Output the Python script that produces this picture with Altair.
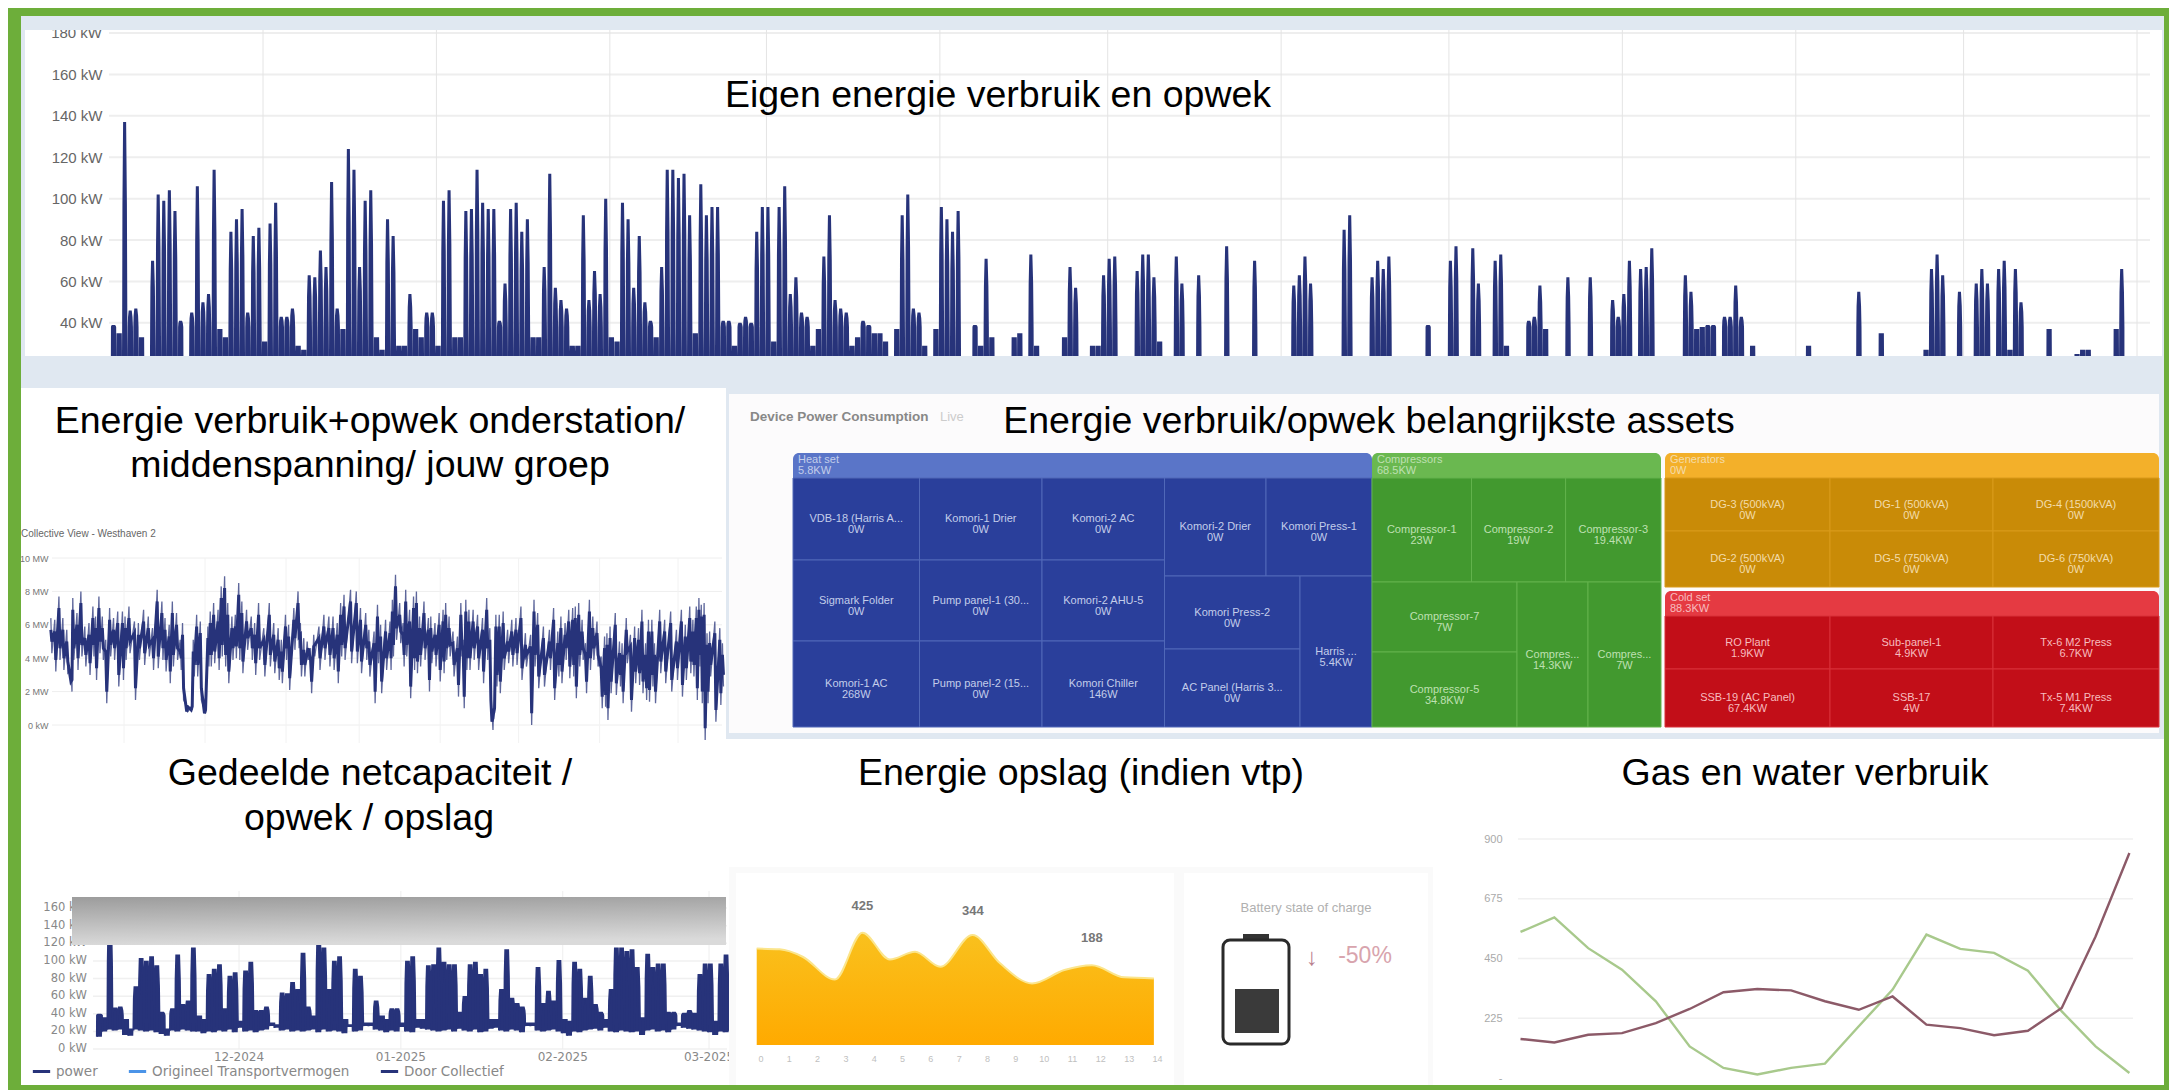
import altair as alt
import pandas as pd

alt.data_transformers.disable_max_rows()

# ---------- values ----------
daily_peak_kw = [
    39,35,137,46,47,33,22,70,102,99, 104,94,41,22,45,106,50,54,114,37,
    33,84,90,95,45,82,86,31,88,98, 43,43,47,29,27,63,62,75,67,108,
    47,37,124,114,67,99,104,33,27,90, 82,29,29,54,37,33,45,45,29,99,
    104,33,33,94,95,114,98,95,95,41, 59,95,98,84,90,33,33,67,112,57,
    51,47,29,29,92,51,65,54,100,33, 31,98,90,57,82,50,41,33,67,114,
    114,110,112,92,35,107,92,96,96,41, 41,29,40,43,40,84,96,96,31,96,
    106,54,62,45,43,29,37,72,92,51, 47,45,29,33,41,39,35,35,31,24,
    37,92,102,47,45,29,24,37,96,90, 84,94,22,22,39,29,71,33,22,22,
    22,33,35,24,73,29,22,22,22,22, 33,67,57,22,22,29,29,63,71,72,
    22,22,22,65,73,73,62,31,22,22, 72,59,22,22,63,22,22,22,22,77,
    22,22,22,22,70,22,22,22,22,22, 22,58,63,72,59,22,22,22,22,22,
    85,92,22,22,22,62,70,66,72,22, 22,22,22,22,22,39,22,22,22,70,
    77,22,22,76,59,22,22,70,73,29, 22,22,22,41,43,58,37,22,22,22,
    62,22,22,22,62,22,22,22,51,43, 54,70,22,66,67,76,22,22,22,22,
    22,63,55,37,38,39,39,22,43,43, 58,43,22,29,22,22,22,22,22,22,
    22,22,22,29,22,22,22,22,22,22, 22,22,55,22,22,22,35,22,22,22,
    22,22,22,22,27,66,73,63,22,22, 55,22,22,59,66,59,22,66,70,27,
    66,50,22,22,22,22,37,22,22,22, 22,25,27,27,22,22,22,22,37,66,
]
daily_low_kw = [
    14,20,22,21,22,16,15,22,21,20, 21,19,17,15,21,20,22,21,20,20,
    18,20,19,21,20,22,19,24,20,21, 19,21,22,26,24,21,22,20,21,20,
    21,22,19,22,20,21,20,18,25,20, 21,26,26,22,21,19,21,20,25,20,
    19,24,23,22,21,20,21,22,20,23, 21,20,22,19,20,23,24,21,20,22,
    21,19,26,26,21,20,21,22,20,18, 15,20,19,21,22,23,21,24,20,19,
    21,20,19,20,16,21,22,20,21,19, 22,26,24,23,22,21,20,19,16,20,
    19,21,22,21,22,26,22,20,19,21, 22,21,26,23,22,22,24,23,20,18,
] + [18] * 220

mw_day = [
    0,1.5,3.1,4.6,6.1,7.7,8.4,10,11.5,13,14.6,16.1,17.1,18.4,19.7,21,22.5,24,25.6,27.4,
    28.4,29.9,32,33.5,35.5,37.3,38.9,40.7,42.5,43.7,45.3,46.5,48.1,49.5,50.4,52,53.7,54.5,55.8,57.2,
    58.8,60.1,61,62.3,64,65.2,66.5,67.7,69.3,70.6,71.9,73.1,74.9,76.7,78,79.5,81.5,83.6,85.3,87,
    88.2,89.8,91,93,94.6,95.5,96.8,98.1,99.4,100.6,102.6,104.5,106.4,108,109.6,110.9,112.2,114.7,116.9,118.5,
    120.5,121.7,123.7,125,126.2,128.1,129.8,130.7,131.9,133.5,134.8,135.8,137.3,138.8,139.9,141.1,142.8,144.5,145.4,147,
    148.6,150.1,151.1,152.4,153.9,155.6,156.9,157.8,158.8,160,161.6,163.3,165.2,166.8,168,168.8,169.4,170.3,171.6,173.1,
    174.8,176.4,178,179.9,181.6,183.6,184.9,186.3,188.5,190.8,192.4,194,195.2,196.8,198.2,199.7,200.7,202,203.3,204.6,
    206.1,207.4,209,210.6,211.9,212.8,214,216,217.6,218.6,220.2,221.8,223.4,224.9,226.2,227.6,228.7,230,231,233,
    234.9,237.2,239.4,241.3,242.8,244.5,245.7,247,248,248.9,250,251.1,252.1,254.1,256,257,
]
mw_high = [
    6.4,6.3,7.7,6.4,5.7,3.3,7.6,6.7,8.0,5.9,6.1,7.1,6.5,7.7,6.5,5.1,7.0,6.4,6.8,6.8,
    6.5,7.1,6.2,6.1,6.9,6.5,5.8,8.1,7.4,6.4,6.0,7.4,6.7,5.1,6.1,1.1,1.1,5.1,6.6,6.2,
    0.9,5.9,6.8,7.3,6.9,8.3,8.9,7.3,6.5,6.6,8.5,7.4,6.9,6.5,6.1,7.3,5.8,7.3,6.1,5.8,
    5.1,6.6,6.0,7.0,8.0,6.1,5.2,5.0,4.6,5.4,5.9,6.6,6.5,6.5,6.1,7.3,7.8,8.1,8.0,7.0,
    6.7,5.7,5.6,7.2,6.0,6.3,6.2,7.5,9.0,7.3,6.1,8.1,6.9,7.7,8.0,6.5,7.4,6.4,6.5,6.1,
    6.7,6.9,7.3,6.5,5.6,5.3,7.3,5.1,7.5,6.9,6.9,6.6,6.4,7.6,5.8,0.9,1.0,6.6,6.6,6.8,
    5.7,6.3,6.4,7.1,5.5,5.4,7.5,6.7,5.9,5.7,7.0,5.6,6.5,6.1,6.9,7.0,7.1,7.3,6.3,4.9,
    7.5,6.5,6.2,4.1,5.3,5.5,5.9,6.7,5.0,4.9,6.4,5.4,5.9,5.8,6.9,4.9,6.3,6.3,4.9,6.9,
    6.3,6.8,5.7,6.9,6.0,7.1,6.3,7.1,7.6,7.2,7.3,5.5,5.6,6.2,5.8,4.9,
]
mw_low = [
    4.3,3.2,3.9,3.3,3.1,2.0,3.9,3.3,4.1,3.5,3.0,4.1,2.7,4.3,3.9,1.3,4.1,3.9,2.3,2.7,
    3.9,4.3,1.5,3.9,3.6,4.1,3.3,3.4,3.9,3.2,2.5,3.5,3.9,3.3,1.5,0.8,0.9,2.9,2.9,1.5,
    0.7,3.5,3.5,3.7,3.3,4.1,3.5,2.5,3.9,4.0,3.9,3.1,4.5,3.9,3.0,3.9,2.9,3.5,3.1,2.7,
    2.5,3.9,2.1,4.5,4.6,2.9,2.9,3.9,1.9,4.1,3.3,3.9,3.5,3.3,2.5,4.1,3.9,3.7,3.7,3.1,
    3.9,2.9,1.3,3.7,1.9,3.3,3.3,4.1,5.1,4.9,3.5,4.1,1.6,3.3,3.1,3.5,3.9,2.0,3.7,3.5,
    2.6,3.1,3.9,4.1,2.9,1.7,4.1,1.0,3.3,3.3,3.9,3.3,2.5,3.9,0.8,-0.3,0.7,2.3,1.9,3.3,
    3.7,3.5,3.6,2.7,3.5,0.0,3.5,2.2,2.3,3.3,1.5,2.9,2.5,3.9,2.8,2.9,1.6,3.5,3.9,1.9,
    3.3,3.9,3.5,1.0,1.1,0.3,1.9,1.8,2.3,1.3,3.7,0.8,2.5,2.4,1.9,1.5,1.4,2.3,1.3,3.1,
    2.5,2.0,2.7,1.7,2.7,3.1,2.9,1.5,3.5,1.3,-0.9,1.3,2.9,0.2,1.2,2.3,
]

gas_green = [550,605,489,408,289,119,38,13,38,54,195,333,540,486,471,404,251,119,19]
gas_brown = [147,134,163,169,207,260,323,335,330,289,257,307,201,188,161,178,264,533,847]

storage_x = [-0.13,0.68,1.49,2.63,3.6,4.57,5.46,6.35,7.49,8.46,9.59,10.73,11.7,12.84,13.89]
storage_v = [365,362,334,248,425,324,353,296,416,309,233,284,302,256,252]
storage_label_x = [3.6, 7.5, 11.7]
storage_label_v = [526, 507, 405]
storage_label_t = ["425", "344", "188"]

battery_soc = 50

month_ends_top = ["2024-12-01","2025-01-01","2025-02-01","2025-03-01","2025-04-01","2025-05-01",
                  "2025-06-01","2025-07-01","2025-08-01","2025-09-01","2025-10-01","2025-11-01"]
month_ends_mid = month_ends_top[:8]
month_ends_low = month_ends_top[:4]
low_month_labels = ["12-2024", "01-2025", "02-2025", "03-2025"]
low_ticks_kw = [0,20,40,60,80,100,120,140,160]
low_tick_text = ["0 kW","20 kW","40 kW","60 kW","80 kW","100 kW","120 kW","140 kW","160 kW"]

legend_names = ["power", "Origineel Transportvermogen", "Door Collectief"]
legend_colors = ["#27337a", "#4b94e8", "#27337a"]

# treemap: name, value
heat_names = ["VDB-18 (Harris A...\n0W","Komori-1 Drier\n0W","Komori-2 AC\n0W","Sigmark Folder\n0W",
              "Pump panel-1 (30...\n0W","Komori-2 AHU-5\n0W","Komori-1 AC\n268W","Pump panel-2 (15...\n0W",
              "Komori Chiller\n146W","Komori-2 Drier\n0W","Komori Press-1\n0W","Komori Press-2\n0W",
              "AC Panel (Harris 3...\n0W","Harris ...\n5.4KW"]
comp_names = ["Compressor-1\n23W","Compressor-2\n19W","Compressor-3\n19.4KW","Compressor-7\n7W",
              "Compressor-5\n34.8KW","Compres...\n14.3KW","Compres...\n7W"]
gen_names = ["DG-3 (500kVA)\n0W","DG-1 (500kVA)\n0W","DG-4 (1500kVA)\n0W",
             "DG-2 (500kVA)\n0W","DG-5 (750kVA)\n0W","DG-6 (750kVA)\n0W"]
cold_names = ["RO Plant\n1.9KW","Sub-panel-1\n4.9KW","Tx-6 M2 Press\n6.7KW",
              "SSB-19 (AC Panel)\n67.4KW","SSB-17\n4W","Tx-5 M1 Press\n7.4KW"]

# ---------- layout ----------
W, H = 2161, 1082
M = 8
PAGE_X = alt.Scale(domain=[0, 2177], range=[-M, 2177 - M], nice=False, zero=False)
PAGE_Y = alt.Scale(domain=[0, 1090], range=[-M, 1090 - M], nice=False, zero=False)
FONT = "Liberation Sans"
LINE = "#27337a"


def rects(items, **mark):
    df = pd.DataFrame(items, columns=["x0", "x1", "y0", "y1", "c"])
    return alt.Chart(df).mark_rect(**mark).encode(
        x=alt.X("x0:Q", scale=PAGE_X, axis=None), x2="x1:Q",
        y=alt.Y("y0:Q", scale=PAGE_Y, axis=None), y2="y1:Q",
        fill=alt.Fill("c:N", scale=None),
    )


def texts(items, **mark):
    df = pd.DataFrame(items, columns=["t", "x", "y"])
    return alt.Chart(df).mark_text(font=FONT, **mark).encode(
        x=alt.X("x:Q", scale=PAGE_X, axis=None),
        y=alt.Y("y:Q", scale=PAGE_Y, axis=None),
        text="t:N",
    )


def ts(day):
    return pd.Timestamp("2024-11-03 19:00") + pd.Timedelta(days=day)


def temporal_scale(first, last, x_first, x_last):
    return alt.Scale(domain=[first + "T00:00:00", last + "T00:00:00"], range=[x_first - M, x_last - M])


# ---------- shared daily series ----------
rows = []
for i, (pk, lo) in enumerate(zip(daily_peak_kw, daily_low_kw)):
    shoulder = min(pk, 38)
    waist = shoulder + (pk - shoulder) * 0.6
    rows += [(i, lo, lo), (i + 0.03, shoulder, lo), (i + 0.08, waist, lo), (i + 0.2, pk, lo),
             (i + 0.74, pk, lo), (i + 0.88, waist, lo), (i + 0.96, shoulder, lo)]
power = pd.DataFrame(rows, columns=["day", "kw", "base"])
power["t"] = power["day"].map(ts)
power["series"] = "power"

# ---------- top panel ----------
top_xs = temporal_scale("2024-12-01", "2025-11-01", 263, 2137)
top_ys = alt.Scale(domain=[24, 180], range=[356 - M, 33 - M], nice=False, zero=False)
top_grid_h = alt.Chart(pd.DataFrame({"v": [40, 60, 80, 100, 120, 140, 160, 180]})).mark_rule(
    color="#eeeeee", strokeWidth=2
).encode(y=alt.Y("v:Q", scale=top_ys, axis=None), x=alt.value(109 - M), x2=alt.value(2150 - M))
top_grid_v = alt.Chart(pd.DataFrame({"m": month_ends_top})).mark_rule(
    color="#e4e4e4", strokeWidth=1
).encode(x=alt.X("m:T", scale=top_xs, axis=None), y=alt.value(30 - M), y2=alt.value(356 - M))
top_line = alt.Chart(power).mark_area(color=LINE, opacity=1, interpolate="linear").encode(
    x=alt.X("t:T", scale=top_xs, axis=None),
    y=alt.Y("kw:Q", scale=top_ys, axis=alt.Axis(
        orient="left", values=[40, 60, 80, 100, 120, 140, 160], labelExpr="datum.value + ' kW'", title=None,
        domain=False, ticks=False, tickSize=0, grid=False, labelPadding=0, offset=-(102 - M),
        labelFont=FONT, labelFontSize=15, labelColor="#666666", zindex=1)),
)
top_180 = alt.Chart(pd.DataFrame({"v": [180], "t": ["180 kW"]})).mark_text(
    font=FONT, fontSize=15, color="#666666", align="right", baseline="middle"
).encode(y=alt.Y("v:Q", scale=top_ys, axis=None), x=alt.value(102 - M), text="t:N")
top_panel = [top_grid_h, top_grid_v, top_line, top_180]

# ---------- middle left ----------
mid_pts, core_pts = [], []
for d, hi, lo in zip(mw_day, mw_high, mw_low):
    mid_pts += [(d, hi), (d + 0.4, lo)]
    core_pts += [(d, max(hi - 0.7, lo)), (d + 0.4, min(lo + 0.7, hi))]
start_mid = pd.Timestamp("2024-11-03")
mid = pd.DataFrame(mid_pts, columns=["day", "mw"])
mid["t"] = mid["day"].map(lambda d: start_mid + pd.Timedelta(days=d))
core = pd.DataFrame(core_pts, columns=["day", "mw"])
core["t"] = core["day"].map(lambda d: start_mid + pd.Timedelta(days=d))
mid_xs = temporal_scale("2024-12-01", "2025-07-01", 124, 678)
mid_ys = alt.Scale(domain=[0, 10], range=[725 - M, 558 - M], nice=False, zero=False)
mid_grid_h = alt.Chart(pd.DataFrame({"v": [0, 2, 4, 6, 8, 10]})).mark_rule(
    color="#eeeeee", strokeWidth=1
).encode(y=alt.Y("v:Q", scale=mid_ys, axis=None), x=alt.value(52 - M), x2=alt.value(722 - M))
mid_grid_v = alt.Chart(pd.DataFrame({"m": month_ends_mid})).mark_rule(
    color="#f2f2f2", strokeWidth=1
).encode(x=alt.X("m:T", scale=mid_xs, axis=None), y=alt.value(558 - M), y2=alt.value(743 - M))
mid_line = alt.Chart(mid).mark_line(color=LINE, strokeWidth=1.3, opacity=0.75).encode(
    x=alt.X("t:T", scale=mid_xs, axis=None),
    y=alt.Y("mw:Q", scale=mid_ys, axis=alt.Axis(
        orient="left", values=[0, 2, 4, 6, 8, 10], labelExpr="datum.value == 0 ? '0 kW' : datum.value + ' MW'", title=None,
        domain=False, ticks=False, tickSize=0, grid=False, labelPadding=0, offset=-(48 - M),
        labelFont=FONT, labelFontSize=9, labelColor="#777777", zindex=1)),
)
mid_core = alt.Chart(core).mark_line(color=LINE, strokeWidth=3).encode(
    x=alt.X("t:T", scale=mid_xs, axis=None),
    y=alt.Y("mw:Q", scale=mid_ys, axis=None),
)
mid_panel = [mid_grid_h, mid_grid_v, mid_line, mid_core]

# ---------- treemap ----------
heat_tiles = [(793,919.5,478,560),(919.5,1042,478,560),(1042,1164.5,478,560),
              (793,919.5,560,641),(919.5,1042,560,641),(1042,1164.5,560,641),
              (793,919.5,641,727),(919.5,1042,641,727),(1042,1164.5,641,727),
              (1164.5,1266,478,576),(1266,1372,478,576),(1164.5,1300,576,649),
              (1164.5,1300,649,727),(1300,1372,576,727)]
comp_tiles = [(1372,1471.5,478,582),(1471.5,1565.6,478,582),(1565.6,1661,478,582),
              (1372,1517,582,652),(1372,1517,652,727),(1517,1588,582,727),(1588,1661,582,727)]
gen_tiles = [(1665,1830,478,531),(1830,1993,478,531),(1993,2159,478,531),
             (1665,1830,531,587),(1830,1993,531,587),(1993,2159,531,587)]
cold_tiles = [(1665,1830,616,669),(1830,1993,616,669),(1993,2159,616,669),
              (1665,1830,669,727),(1830,1993,669,727),(1993,2159,669,727)]


def tile_group(frame, header, title, tiles, names, cell, line, ink):
    parts = [rects([(*frame, header)], cornerRadius=6)]
    df = pd.DataFrame(tiles, columns=["x0", "x1", "y0", "y1"])
    df["n"] = names
    df["cx"] = (df.x0 + df.x1) / 2
    df["cy"] = (df.y0 + df.y1) / 2
    parts.append(alt.Chart(df).mark_rect(stroke=line, strokeWidth=1, fill=cell).encode(
        x=alt.X("x0:Q", scale=PAGE_X, axis=None), x2="x1:Q",
        y=alt.Y("y0:Q", scale=PAGE_Y, axis=None), y2="y1:Q"))
    parts.append(alt.Chart(df).mark_text(font=FONT, fontSize=11, color=ink, lineBreak="\n", lineHeight=11,
                                         baseline="middle").encode(
        x=alt.X("cx:Q", scale=PAGE_X, axis=None), y=alt.Y("cy:Q", scale=PAGE_Y, axis=None), text="n:N"))
    head = pd.DataFrame({"t": [title], "x": [frame[0] + 5], "y": [frame[2] + 7]})
    parts.append(alt.Chart(head).mark_text(font=FONT, fontSize=11, color=ink, align="left", lineBreak="\n",
                                           lineHeight=11, baseline="middle").encode(
        x=alt.X("x:Q", scale=PAGE_X, axis=None), y=alt.Y("y:Q", scale=PAGE_Y, axis=None), text="t:N"))
    return parts


treemap = [
    *tile_group((793, 1372, 453, 727), "#5a75c8", "Heat set\n5.8KW", heat_tiles, heat_names, "#2a3f9b", "#5068b8", "#c3cdea"),
    *tile_group((1372, 1661, 453, 727), "#6ab850", "Compressors\n68.5KW", comp_tiles, comp_names, "#42992f", "#62b24c", "#bfe0b2"),
    *tile_group((1665, 2159, 453, 587), "#f3b02a", "Generators\n0W", gen_tiles, gen_names, "#c98b07", "#d99a1a", "#f3dcaa"),
    *tile_group((1665, 2159, 591, 727), "#e53a42", "Cold set\n88.3KW", cold_tiles, cold_names, "#c20e18", "#d83038", "#f7bcbf"),
    texts([("Device Power Consumption", 750, 417)], fontSize=13.5, fontWeight="bold", color="#888888", align="left", baseline="middle"),
    texts([("Live", 940, 417)], fontSize=13, color="#cccccc", align="left", baseline="middle"),
]

# ---------- lower left ----------
low_xs = temporal_scale("2024-12-01", "2025-03-01", 239, 709)
low_ys = alt.Scale(domain=[0, 160], range=[1049 - M, 908 - M], nice=False, zero=False)
low_grid_h = alt.Chart(pd.DataFrame({"v": low_ticks_kw})).mark_rule(color="#f0f0f0", strokeWidth=1.5).encode(
    y=alt.Y("v:Q", scale=low_ys, axis=None), x=alt.value(93 - M), x2=alt.value(727 - M))
low_grid_v = alt.Chart(pd.DataFrame({"m": month_ends_low})).mark_rule(color="#eeeeee", strokeWidth=1).encode(
    x=alt.X("m:T", scale=low_xs, axis=None), y=alt.value(891 - M), y2=alt.value(1049 - M))
low_power = power[power["day"] < 121.4]
low_fill = alt.Chart(low_power).mark_area(color=LINE, opacity=1).encode(
    x=alt.X("t:T", scale=low_xs, axis=None),
    y=alt.Y("kw:Q", scale=low_ys, axis=None),
    y2="base:Q",
)
low_line = alt.Chart(low_power).mark_line(strokeWidth=2).encode(
    x=alt.X("t:T", scale=low_xs, axis=None),
    y=alt.Y("kw:Q", scale=low_ys, axis=None),
    color=alt.Color("series:N", scale=alt.Scale(domain=legend_names, range=legend_colors), legend=alt.Legend(
        orient="none", legendX=31 - M, legendY=1061 - M, direction="horizontal", columns=3, title=None,
        symbolType="stroke", symbolStrokeWidth=3, symbolSize=300, labelFont="DejaVu Sans", labelFontSize=13.5,
        labelLimit=400, labelColor="#888888", columnPadding=24, padding=0)),
)
low_y_text = alt.Chart(pd.DataFrame({"v": low_ticks_kw, "t": low_tick_text})).mark_text(
    font="DejaVu Sans", fontSize=11.5, color="#888888", align="right", baseline="middle"
).encode(y=alt.Y("v:Q", scale=low_ys, axis=None), x=alt.value(87 - M), text="t:N")
low_x_text = alt.Chart(pd.DataFrame({"m": month_ends_low, "t": low_month_labels})).mark_text(
    font="DejaVu Sans", fontSize=12, color="#888888", baseline="middle"
).encode(x=alt.X("m:T", scale=low_xs, axis=None), y=alt.value(1057 - M), text="t:N")
gray_fill = alt.LinearGradient(gradient="linear", x1=0, y1=0, x2=0.15, y2=1,
                               stops=[alt.GradientStop(color="#9c9c9c", offset=0),
                                      alt.GradientStop(color="#dadada", offset=1)])
gray_box = alt.Chart(pd.DataFrame({"a": [72], "b": [726], "c": [897], "d": [945]})).mark_rect(color=gray_fill).encode(
    x=alt.X("a:Q", scale=PAGE_X, axis=None), x2="b:Q",
    y=alt.Y("c:Q", scale=PAGE_Y, axis=None), y2="d:Q")
low_panel = [low_grid_h, low_grid_v, low_fill, low_line, low_y_text, low_x_text, gray_box]

# ---------- energy storage ----------
sto_xs = alt.Scale(domain=[0, 14], range=[760.4 - M, 1157 - M], nice=False, zero=False)
sto_ys = alt.Scale(domain=[0, 425], range=[1045 - M, 932.7 - M], nice=False, zero=False)
sto_fill = alt.LinearGradient(gradient="linear", x1=0, y1=0, x2=0, y2=1,
                              stops=[alt.GradientStop(color="#f9c11e", offset=0),
                                     alt.GradientStop(color="#ffaa00", offset=1)])
sto_df = pd.DataFrame({"x": storage_x, "v": storage_v})
sto_area = alt.Chart(sto_df).mark_area(color=sto_fill, opacity=1, interpolate="monotone",
                                       line=alt.OverlayMarkDef(color="#fbe58c", strokeWidth=2)).encode(
    x=alt.X("x:Q", scale=sto_xs, axis=alt.Axis(
        orient="bottom", values=list(range(15)), title=None, domain=False, ticks=False, tickSize=0, grid=False,
        labelPadding=0, offset=(1054 - M) - H, labelFont=FONT, labelFontSize=9, labelColor="#c0c0c0",
        labelFlush=False, zindex=1)),
    y=alt.Y("v:Q", scale=sto_ys, axis=None),
)
sto_labels = alt.Chart(pd.DataFrame({"x": storage_label_x, "v": storage_label_v, "t": storage_label_t})).mark_text(
    font=FONT, fontSize=13, fontWeight="bold", color="#777777", baseline="middle"
).encode(x=alt.X("x:Q", scale=sto_xs, axis=None), y=alt.Y("v:Q", scale=sto_ys, axis=None), text="t:N")
storage_panel = [sto_area, sto_labels]

soc_scale = alt.Scale(domain=[0, 100], range=[1033 - M, 945 - M], nice=False, zero=False)
battery_charge = alt.Chart(pd.DataFrame({"a": [1235], "b": [1279], "soc": [battery_soc], "base": [0]})).mark_rect(color="#3a3a3a").encode(
    x=alt.X("a:Q", scale=PAGE_X, axis=None), x2="b:Q",
    y=alt.Y("soc:Q", scale=soc_scale, axis=None), y2="base:Q")

# ---------- gas and water ----------
gas_xs = alt.Scale(domain=[0, 18], range=[1520.5 - M, 2129.4 - M], nice=False, zero=False)
gas_ys = alt.Scale(domain=[0, 900], range=[1078 - M, 839 - M], nice=False, zero=False)
gas_df = pd.DataFrame({"i": list(range(19)) * 2, "v": gas_green + gas_brown,
                       "s": ["water"] * 19 + ["gas"] * 19})
gas_grid = alt.Chart(pd.DataFrame({"v": [225, 450, 675, 900]})).mark_rule(color="#f0f0f0", strokeWidth=1.5).encode(
    y=alt.Y("v:Q", scale=gas_ys, axis=None), x=alt.value(1518 - M), x2=alt.value(2133 - M))
gas_lines = alt.Chart(gas_df).mark_line(strokeWidth=2.4).encode(
    x=alt.X("i:Q", scale=gas_xs, axis=None),
    y=alt.Y("v:Q", scale=gas_ys, axis=alt.Axis(
        orient="left", values=[0, 225, 450, 675, 900], labelExpr="datum.value == 0 ? '-' : datum.label", format="d", title=None,
        domain=False, ticks=False, tickSize=0, grid=False, labelPadding=0, offset=-(1502 - M),
        labelFont=FONT, labelFontSize=11, labelColor="#aaaaaa", zindex=1)),
    color=alt.Color("s:N", scale=alt.Scale(domain=["water", "gas"], range=["#a8c98c", "#8c5a68"]), legend=None),
)
gas_panel = [gas_grid, gas_lines]

# ---------- page furniture ----------
BLUE = "#e0e8f1"
page_back = rects([(0, 2177, 4, 1090, "#6dae3a"), (21, 2164, 16, 1085, BLUE), (25, 2162, 30, 356, "#ffffff")])
page_mid = rects([(21, 2164, 356, 425, BLUE), (21, 726, 388, 739, "#ffffff"), (729, 2159, 394, 733, "#fcfbfc"),
                  (21, 2164, 739, 1085, "#ffffff")])
page_topband = rects([(21, 2164, 16, 30, BLUE)])
storage_back = rects([(729, 1433, 867, 1085, "#fafafa"), (736, 1174, 873, 1085, "#ffffff"),
                      (1184, 1428, 873, 1085, "#ffffff")])
battery_shell = rects([(1243, 1269, 934, 941, "#333333")])
battery_body = alt.Chart(pd.DataFrame({"a": [1223], "b": [1289], "c": [940], "d": [1044]})).mark_rect(
    fill="#ffffff", stroke="#2a2a2a", strokeWidth=3, cornerRadius=7).encode(
    x=alt.X("a:Q", scale=PAGE_X, axis=None), x2="b:Q",
    y=alt.Y("c:Q", scale=PAGE_Y, axis=None), y2="d:Q")
battery_text = [
    texts([("Battery state of charge", 1306, 908)], fontSize=13, color="#b0b0b0", baseline="middle"),
    texts([("-50%", 1365, 956)], fontSize=23, color="#d8a4ad", baseline="middle"),
    texts([("↓", 1312, 958)], fontSize=24, color="#b98290", baseline="middle"),
]
mid_title = texts([("Collective View - Westhaven 2", 21, 534)], fontSize=10, color="#666666", align="left", baseline="middle")

titles = texts([("Eigen energie verbruik en opwek", 998, 107),
                ("Energie verbruik+opwek onderstation/", 370, 433),
                ("middenspanning/ jouw groep", 370, 477),
                ("Energie verbruik/opwek belangrijkste assets", 1369, 433),
                ("Gedeelde netcapaciteit /", 370, 785),
                ("opwek / opslag", 369, 830),
                ("Energie opslag (indien vtp)", 1081, 785),
                ("Gas en water verbruik", 1805, 785)],
               fontSize=37.5, color="#000000", baseline="alphabetic")

chart = alt.layer(
    page_back, *top_panel, page_topband, page_mid,
    mid_title, *mid_panel, *treemap, *low_panel,
    storage_back, *storage_panel, battery_shell, battery_body, battery_charge, *battery_text,
    *gas_panel, titles,
).resolve_scale(x="independent", y="independent", color="independent").properties(
    width=W, height=H, padding=0, background="#ffffff",
    autosize=alt.AutoSizeParams(type="none"),
).configure_view(stroke=None)

chart.save("out.html", embed_options={"renderer": "svg", "actions": False})
